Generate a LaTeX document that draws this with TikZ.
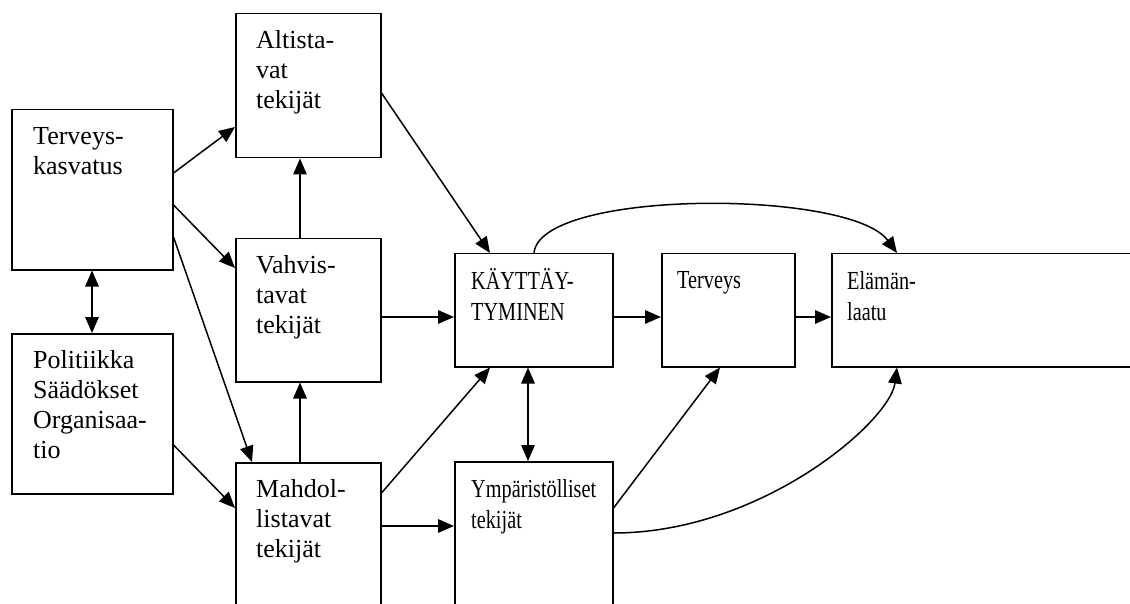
\documentclass[tikz,border=0pt]{standalone}
\usepackage{fontspec}
\setmainfont{Liberation Serif}
\newfontfamily\narrowserif{Liberation Serif}[FakeStretch=0.78]
\usetikzlibrary{arrows.meta,calc}

\tikzset{
  box/.style={draw, line width=1.5pt, rectangle, inner sep=0pt, anchor=north west},
  lbl/.style={anchor=base west, inner sep=0pt, text width=200pt, align=left,
              font=\fontsize{26}{30}\selectfont},
  lbln/.style={lbl, font=\narrowserif\fontsize{26}{31}\selectfont},
  tip/.tip={Triangle[length=16pt,width=13.5pt]},
  conn/.style={line width=1.5pt, -tip},
  both/.style={line width=1.5pt, tip-tip}
}

\begin{document}
\begin{tikzpicture}[x=1pt,y=-1pt]
\useasboundingbox (0,0) rectangle (1130,604);
\clip (0,0) rectangle (1130,604);

% boxes
\node[box, minimum width=161, minimum height=160] (te) at (11,109) {};
\node[box, minimum width=161, minimum height=160] (po) at (11,333) {};
\node[box, minimum width=145, minimum height=144] (al) at (235,13) {};
\node[box, minimum width=145, minimum height=143] (va) at (235,238) {};
\node[box, minimum width=145, minimum height=200] (ma) at (235,462) {};
\node[box, minimum width=158, minimum height=113] (ka) at (454,253) {};
\node[box, minimum width=133, minimum height=113] (tv) at (661,253) {};
\node[box, minimum width=320, minimum height=113] (el) at (831,253) {};
\node[box, minimum width=158, minimum height=200] (ym) at (454,461) {};

% box texts
\node[lbl] (te-t) at ($(te.north west)+(22,36)$) {Terveys-\\kasvatus};
\node[lbl] (po-t) at ($(po.north west)+(22,35)$) {Politiikka\\Säädökset\\Organisaa-\\tio};
\node[lbl] (al-t) at ($(al.north west)+(21,36)$) {Altista-\\vat\\tekijät};
\node[lbl] (va-t) at ($(va.north west)+(21,35)$) {Vahvis-\\tavat\\tekijät};
\node[lbl] (ma-t) at ($(ma.north west)+(21,35)$) {Mahdol-\\listavat\\tekijät};
\node[lbln] (ka-t) at ($(ka.north west)+(17,36)$) {KÄYTTÄY-\\TYMINEN};
\node[lbln] (tv-t) at ($(tv.north west)+(16,35)$) {Terveys};
\node[lbln] (el-t) at ($(el.north west)+(16,36)$) {Elämän-\\laatu};
\node[lbln] (ym-t) at ($(ym.north west)+(17,36)$) {Ympäristölliset\\tekijät};

% connectors
\draw[conn] ($(te.north east)+(0,64)$) -- ($(al.north west)+(0,114)$);
\draw[conn] ($(te.north east)+(0,96)$) -- ($(va.north west)+(0,30)$);
\draw[conn] ($(te.north east)+(0,128)$) -- ($(ma.north west)+(17,0)$);
\draw[both] ($(te.south west)+(81,0)$) -- ($(po.north west)+(81,0)$);
\draw[conn] ($(va.north west)+(65,0)$) -- ($(al.south west)+(65,0)$);
\draw[conn] ($(ma.north west)+(65,0)$) -- ($(va.south west)+(65,0)$);
\draw[conn] ($(po.north east)+(0,112)$) -- ($(ma.north west)+(0,46)$);
\draw[conn] ($(al.north east)+(0,80)$) -- ($(ka.north west)+(36,0)$);
\draw[conn] ($(va.north east)+(0,79)$) -- ($(ka.north west)+(0,64)$);
\draw[conn] ($(ma.north east)+(0,31)$) -- ($(ka.south west)+(36,0)$);
\draw[conn] ($(ma.north east)+(0,64)$) -- ($(ym.north west)+(0,65)$);
\draw[both] ($(ka.south west)+(74,0)$) -- ($(ym.north west)+(74,0)$);
\draw[conn] ($(ka.north east)+(0,64)$) -- ($(tv.north west)+(0,64)$);
\draw[conn] ($(tv.north east)+(0,64)$) -- ($(el.north west)+(0,64)$);
\draw[conn] ($(ka.north west)+(80,0)$) .. controls +(6,-64) and +(-47,-64) .. ($(el.north west)+(66,0)$);
\draw[conn] ($(ym.north east)+(0,47)$) -- ($(tv.south west)+(59,0)$);
\draw[conn] ($(ym.north east)+(0,72)$) .. controls +(148,0) and +(-7,54) .. ($(el.south west)+(66,0)$);
\end{tikzpicture}
\end{document}
